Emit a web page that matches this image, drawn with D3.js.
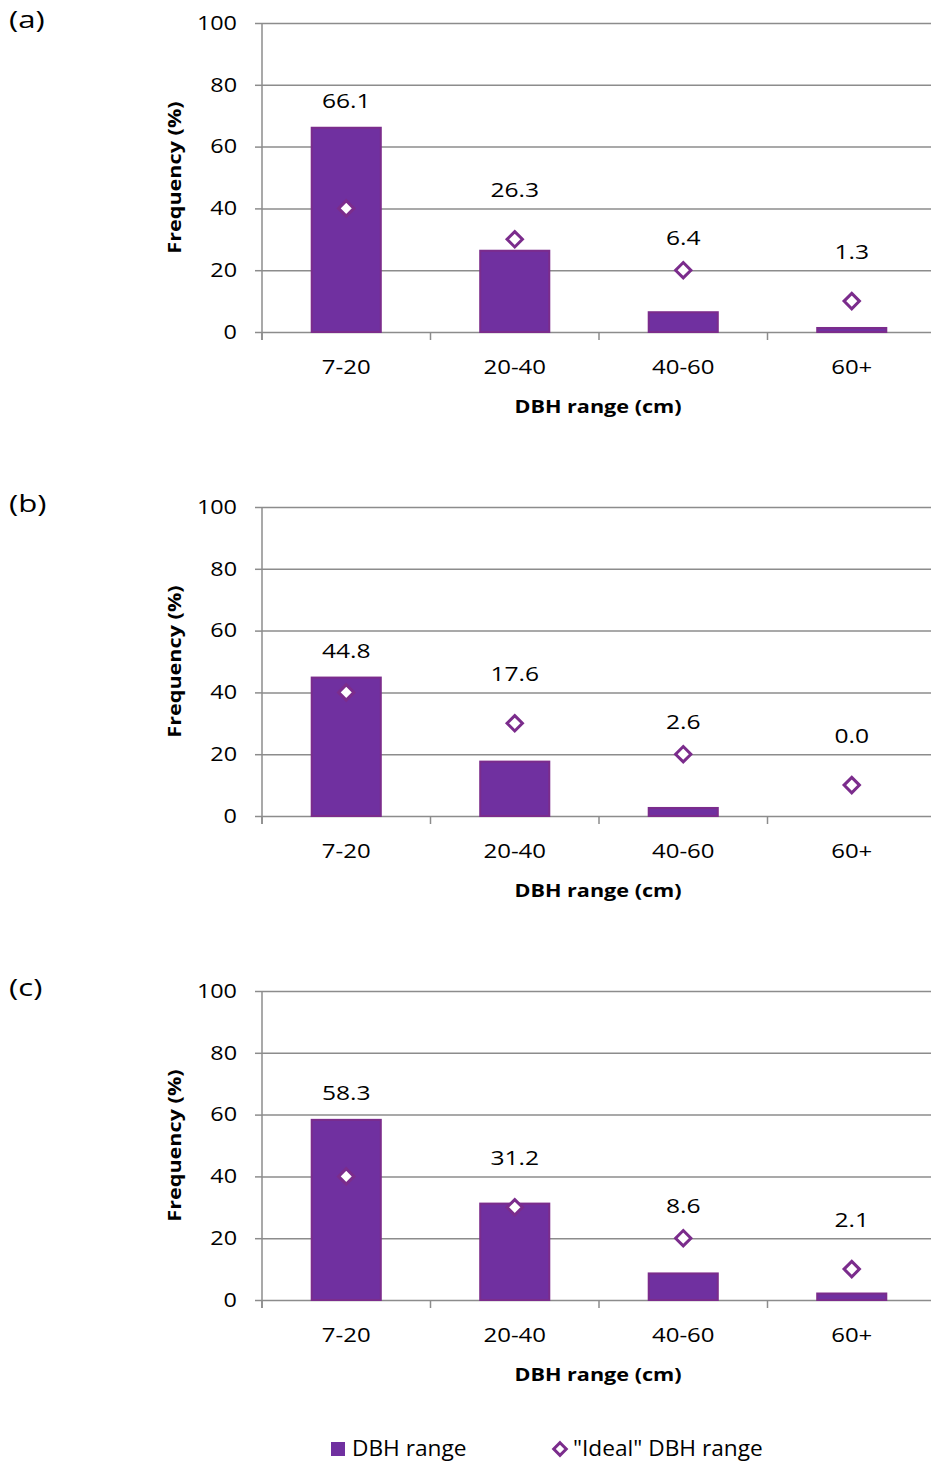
<!DOCTYPE html>
<html>
<head>
<meta charset="utf-8">
<script src="https://cdn.jsdelivr.net/npm/d3@7"></script>
<style>
  body { margin: 0; background: #fff; }
  svg { display: block; }
  text { font-family: "Open Sans", "Noto Sans", sans-serif; fill: #000; }
</style>
</head>
<body>
<script>
// ---------------- data ----------------
const categories = ["7-20", "20-40", "40-60", "60+"];
const panelLabels = ["(a)", "(b)", "(c)"];
const seriesA = [66.1, 26.3, 6.4, 1.3];
const seriesB = [44.8, 17.6, 2.6, 0.0];
const seriesC = [58.3, 31.2, 8.6, 2.1];
const idealRange = [40, 30, 20, 10];
const yTickValues = [0, 20, 40, 60, 80, 100];
const xTitle = "DBH range (cm)";
const yTitle = "Frequency (%)";
const legendLabels = ["DBH range", "\"Ideal\" DBH range"];

// ---------------- layout / style ----------------
const W = 931, H = 1463;
const barFill = "#7030A0", barStroke = "#7B2C8C", markStroke = "#7B2C8C";
const gridColor = "#8C8C8C";
const SX = 1.2; // horizontal stretch of text
const plotLeft = 262, plotRight = 936, gridRight = 931;
const panelStep = 484, firstTop = 23, plotH = 309;
const labelFloor = [0, 46, 30.5, 26]; // manual data label placement (value units)

const svg = d3.select("body").append("svg").attr("width", W).attr("height", H);

function txt(parent, x, y, s, o = {}) {
  const g = parent.append("g")
    .attr("transform", `translate(${x},${y}) rotate(${o.rotate || 0}) scale(${o.sx || SX},1)`);
  g.append("text")
    .attr("text-anchor", o.anchor || "middle")
    .attr("dy", "0.35em")
    .attr("font-size", o.size || 20)
    .attr("font-weight", o.weight || "normal")
    .text(s);
  return g;
}

const diamond = d3.symbol().type(d3.symbolDiamond2);

[seriesA, seriesB, seriesC].forEach((vals, i) => {
  const top = firstTop + panelStep * i;
  const bottom = top + plotH;
  const y = d3.scaleLinear().domain([0, 100]).range([bottom, top]);
  const x = d3.scaleBand().domain(categories).range([plotLeft, plotRight]).padding(0);
  const g = svg.append("g");

  // gridlines + y ticks
  const yAxis = d3.axisLeft(y).tickValues(yTickValues).tickSizeInner(7).tickSizeOuter(0).tickFormat(d3.format("d"));
  const ya = g.append("g").attr("transform", `translate(${plotLeft},0)`).call(yAxis);
  ya.select(".domain").remove();
  ya.selectAll(".tick line").attr("stroke", gridColor).attr("stroke-width", 1.5);
  ya.selectAll(".tick text").remove();
  ya.selectAll(".tick").append("line")
    .attr("x1", 0).attr("x2", gridRight - plotLeft)
    .attr("stroke", gridColor).attr("stroke-width", 1.5);
  yTickValues.forEach(v => txt(g, plotLeft - 25, y(v), String(v), { anchor: "end", size: 19.5 }));

  // y axis line
  g.append("line").attr("x1", plotLeft).attr("x2", plotLeft)
    .attr("y1", y(100)).attr("y2", y(0) + 8)
    .attr("stroke", gridColor).attr("stroke-width", 1.5);

  // category ticks at band boundaries
  g.selectAll(".ctick").data(categories).join("line")
    .attr("x1", d => x(d)).attr("x2", d => x(d))
    .attr("y1", y(0)).attr("y2", y(0) + 8)
    .attr("stroke", gridColor).attr("stroke-width", 1.5);

  // bars
  const bw = x.bandwidth() * 0.41;
  g.selectAll(".bar").data(categories.map((c, k) => ({ c, v: vals[k] })).filter(d => d.v > 0))
    .join("rect")
    .attr("x", d => x(d.c) + (x.bandwidth() - bw) / 2)
    .attr("y", d => y(d.v))
    .attr("width", bw)
    .attr("height", d => y(0) - y(d.v))
    .attr("fill", barFill).attr("stroke", barStroke).attr("stroke-width", 2);

  // ideal markers
  g.selectAll(".mk").data(categories.map((c, k) => ({ c, v: idealRange[k] })))
    .join("path")
    .attr("d", diamond.size(150)())
    .attr("transform", d => `translate(${x(d.c) + x.bandwidth() / 2},${y(d.v)})`)
    .attr("fill", "#fff").attr("stroke", markStroke).attr("stroke-width", 3);

  // data labels
  vals.forEach((v, k) => {
    const pos = Math.max(v + 8.7, labelFloor[k]);
    txt(g, x(categories[k]) + x.bandwidth() / 2, y(pos), v.toFixed(1), { size: 20.5 });
  });

  // category labels
  categories.forEach(c => txt(g, x(c) + x.bandwidth() / 2, y(0) + 35, c, { size: 20 }));

  // axis titles
  txt(g, (plotLeft + plotRight) / 2 - 1, y(0) + 75, xTitle, { size: 18, weight: "bold" });
  txt(g, 175, (top + bottom) / 2, yTitle, { size: 18, weight: "bold", rotate: -90 });

  // panel label
  txt(g, 9, top - 3, panelLabels[i], { size: 24, anchor: "start", sx: 1.3 });
});

// legend
const leg = svg.append("g");
leg.append("rect").attr("x", 331).attr("y", 1442).attr("width", 14).attr("height", 14).attr("fill", barFill);
txt(leg, 352, 1449, legendLabels[0], { anchor: "start", size: 21, sx: 1.08 });
leg.append("path").attr("d", diamond.size(100)()).attr("transform", "translate(560,1449)")
  .attr("fill", "#fff").attr("stroke", markStroke).attr("stroke-width", 3);
txt(leg, 573, 1449, legendLabels[1], { anchor: "start", size: 21, sx: 1.08 });
</script>
</body>
</html>
